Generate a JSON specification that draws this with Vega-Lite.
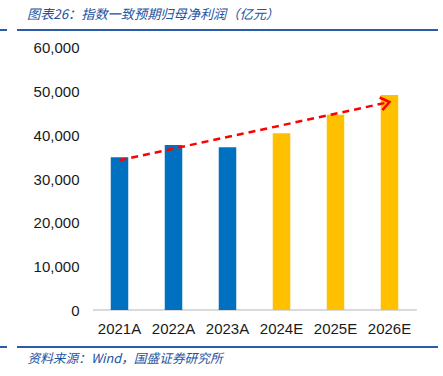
{
  "$schema": "https://vega.github.io/schema/vega-lite/v6.json",
  "width": 438,
  "height": 317,
  "autosize": "none",
  "padding": {"left": 0, "top": 30, "right": 5, "bottom": 29},
  "background": "white",
  "config": {
    "numberFormat": ",.0f",
    "view": {"stroke": "#2a5caa", "strokeWidth": 2, "strokeDash": [7, 10, 421, 317, 421, 10, 7, 317]}
  },
  "title": {
    "text": "图表26：指数一致预期归母净利润（亿元）",
    "anchor": "start",
    "frame": "group",
    "dx": 27,
    "dy": 13,
    "offset": 15,
    "baseline": "middle",
    "font": "Noto Sans CJK SC",
    "fontSize": 13.2,
    "fontStyle": "italic",
    "fontWeight": "normal",
    "color": "#2452a0"
  },
  "layer": [
    {
      "data": {"values": [
        {"year": "2021A", "profit": 34970, "kind": "实际"},
        {"year": "2022A", "profit": 37790, "kind": "实际"},
        {"year": "2023A", "profit": 37260, "kind": "实际"},
        {"year": "2024E", "profit": 40470, "kind": "预期"},
        {"year": "2025E", "profit": 44730, "kind": "预期"},
        {"year": "2026E", "profit": 49240, "kind": "预期"}
      ]},
      "layer": [
        {
          "mark": {"type": "rule", "color": "#d9d9d9", "strokeWidth": 1, "strokeDash": [0, 21.5, 323.5, 1000]},
          "encoding": {"y": {"datum": 0, "type": "quantitative"}}
        },
        {
          "mark": {"type": "bar"},
          "encoding": {
            "x": {
              "field": "year", "type": "nominal", "sort": null,
              "scale": {"range": [92.5, 416.5], "paddingInner": 0.6759, "paddingOuter": 0.338},
              "axis": {
                "orient": "bottom", "title": "资料来源：Wind，国盛证券研究所",
                "titleFont": "Noto Sans CJK SC", "titleFontSize": 12.7, "titleFontStyle": "italic",
                "titleFontWeight": "normal", "titleColor": "#2452a0",
                "titleAnchor": "start", "titleAlign": "left", "titleX": 27, "titleY": 11,
                "titleBaseline": "middle",
                "domain": false, "ticks": false, "tickSize": 0,
                "labelAngle": 0, "labelBaseline": "middle", "labelPadding": -19,
                "labelFont": "Liberation Sans", "labelFontSize": 15, "labelColor": "#1a1a1a"
              }
            },
            "y": {
              "field": "profit", "type": "quantitative",
              "scale": {"domain": [-8473, 64122], "nice": false, "zero": false},
              "axis": {
                "title": null, "values": [0, 10000, 20000, 30000, 40000, 50000, 60000],
                "format": ",.0f", "domain": false, "ticks": false, "tickSize": 0,
                "offset": -81, "labelPadding": 2, "grid": false,
                "labelFont": "Liberation Sans", "labelFontSize": 15, "labelColor": "#1a1a1a"
              }
            },
            "y2": {"datum": 0},
            "color": {
              "field": "kind", "type": "nominal",
              "scale": {"domain": ["实际", "预期"], "range": ["#0070c0", "#ffc000"]},
              "legend": null
            }
          }
        }
      ]
    },
    {
      "data": {"values": [
        {"year": "2021A", "trend": 34280},
        {"year": "2026E", "trend": 47630}
      ]},
      "layer": [
        {
          "mark": {"type": "line", "color": "#ff0000", "strokeWidth": 2.5, "strokeDash": [7, 5]},
          "encoding": {
            "x": {"field": "year", "type": "nominal", "sort": null, "bandPosition": 0.5},
            "y": {"field": "trend", "type": "quantitative"}
          }
        },
        {
          "transform": [{"filter": "datum.year === '2026E'"}],
          "mark": {"type": "point", "shape": "M-1,-0.75L0,0L-1,0.75", "filled": false,
            "color": "#ff0000", "strokeWidth": 2.5, "size": 300, "angle": -12.2, "opacity": 1},
          "encoding": {
            "x": {"field": "year", "type": "nominal", "sort": null, "bandPosition": 0.5},
            "y": {"field": "trend", "type": "quantitative"}
          }
        }
      ]
    }
  ]
}
